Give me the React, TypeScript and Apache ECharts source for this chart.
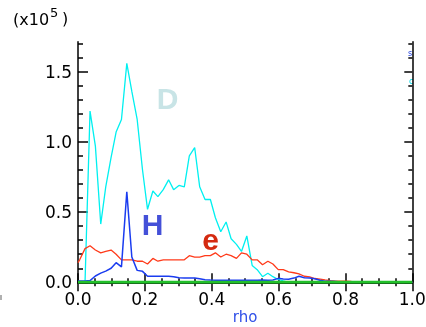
import React, { useEffect, useRef } from "react";
import * as echarts from "echarts";

// rho grid (x values)
const rho = [0, 0.005, 0.021, 0.036, 0.052, 0.068, 0.083, 0.099, 0.114, 0.13, 0.146, 0.161, 0.177, 0.193, 0.208, 0.224, 0.239, 0.255, 0.271, 0.286, 0.302, 0.318, 0.333, 0.349, 0.364, 0.38, 0.396, 0.411, 0.427, 0.443, 0.458, 0.474, 0.489, 0.505, 0.521, 0.536, 0.552, 0.568, 0.583, 0.599, 0.614, 0.63, 0.646, 0.661, 0.677, 0.693, 0.708, 0.724, 0.739, 0.755, 0.771, 0.786, 0.802, 0.818, 0.833, 0.849, 0.864, 0.88, 0.896, 0.911, 0.927, 0.943, 0.958, 0.974, 0.989, 1.0];

// values in units of 1e5
const dValues = [0,
  0, 0, 1.22, 0.97, 0.415, 0.68, 0.89, 1.07, 1.16, 1.56,
  1.36, 1.16, 0.8, 0.52, 0.65, 0.61, 0.66, 0.73, 0.66, 0.69,
  0.68, 0.9, 0.96, 0.68, 0.59, 0.59, 0.46, 0.36, 0.43, 0.31,
  0.27, 0.22, 0.33, 0.12, 0.09, 0.04, 0.065, 0.04, 0.02, 0.01,
  0, 0, 0, 0, 0, 0, 0, 0, 0, 0,
  0, 0, 0, 0, 0, 0, 0, 0, 0, 0,
  0, 0, 0, 0,
  0];

const eValues = [0.14,
  0.16, 0.24, 0.26, 0.23, 0.21, 0.22, 0.23, 0.2, 0.16, 0.16,
  0.16, 0.15, 0.15, 0.13, 0.17, 0.15, 0.16, 0.16, 0.16, 0.16,
  0.16, 0.19, 0.18, 0.18, 0.19, 0.19, 0.21, 0.18, 0.2, 0.19,
  0.17, 0.21, 0.2, 0.16, 0.16, 0.125, 0.15, 0.13, 0.09, 0.09,
  0.075, 0.068, 0.06, 0.043, 0.038, 0.027, 0.022, 0.017, 0.012, 0.009,
  0.008, 0.008, 0.006, 0.005, 0.005, 0.004, 0.004, 0.004, 0.003, 0.003,
  0.003, 0.003, 0.003, 0.002,
  0];

const hValues = [0.01,
  0.01, 0.01, 0.012, 0.045, 0.065, 0.08, 0.1, 0.14, 0.11, 0.645,
  0.18, 0.085, 0.078, 0.043, 0.043, 0.043, 0.043, 0.043, 0.04, 0.032,
  0.03, 0.03, 0.03, 0.025, 0.018, 0.016, 0.015, 0.015, 0.015, 0.014,
  0.015, 0.015, 0.014, 0.015, 0.015, 0.016, 0.015, 0.016, 0.028, 0.024,
  0.022, 0.03, 0.043, 0.032, 0.03, 0.025, 0.015, 0.008, 0.007, 0.005,
  0.003, 0.002, 0.001, 0.001, 0.001, 0.001, 0.001, 0.001, 0.001, 0.001,
  0.001, 0.001, 0.001, 0.001,
  0];

const gValues = rho.map(() => 0);

const xTickLabels = [0, 0.2, 0.4, 0.6, 0.8, 1.0];
const yMajor = [0, 0.5, 1.0, 1.5];
const yMinor = [0.1, 0.2, 0.3, 0.4, 0.6, 0.7, 0.8, 0.9, 1.1, 1.2, 1.3, 1.4, 1.6, 1.7];

const FONT = "DejaVu Sans";
const BOLD = "Liberation Sans";

export default function App() {
  const ref = useRef<HTMLDivElement>(null);
  useEffect(() => {
    if (!ref.current) return;
    const chart = echarts.init(ref.current, null, { renderer: "svg" });
    const pair = (vals: number[]) => rho.map((r, i) => [r, vals[i]]);
    const axisLine = { show: true, lineStyle: { color: "#000", width: 1.5 } };
    const yBase = { type: "value", min: 0, max: 1.714, splitLine: { show: false } };
    const xBase = {
      type: "value", min: 0, max: 1, interval: 0.2, splitLine: { show: false },
      axisLine,
      axisTick: { show: true, inside: true, length: 9, lineStyle: { color: "#000", width: 1.5 } },
      minorTick: { show: true, splitNumber: 4, length: 4, lineStyle: { color: "#000", width: 1.5 } },
    };
    chart.setOption({
      animation: false,
      grid: { left: 78, right: 13.7, top: 41.7, bottom: 44.7, containLabel: false, outerBoundsMode: "none" },
      xAxis: [
        {
          ...xBase, position: "bottom",
          axisLabel: {
            show: true, color: "#000", fontFamily: FONT, fontSize: 17, margin: 8,
            customValues: xTickLabels,
            formatter: (v: number) => v.toFixed(1),
          },
          name: "rho", nameLocation: "middle", nameGap: 28, nameMoveOverlap: false,
          nameTextStyle: { color: "#3050e8", fontFamily: FONT, fontSize: 15, lineHeight: 14 },
        },
        { ...xBase, position: "top", axisLabel: { show: false } },
      ],
      yAxis: [
        {
          ...yBase, position: "left", axisLine,
          axisTick: { show: true, inside: true, length: 10, customValues: yMajor, lineStyle: { color: "#000", width: 1.5 } },
          axisLabel: { show: true, customValues: yMajor, color: "#000", fontFamily: FONT, fontSize: 17, margin: 6, formatter: (v: number) => v.toFixed(1) },
        },
        {
          ...yBase, position: "left", axisLine: { show: false },
          axisTick: { show: true, inside: true, length: 5, customValues: yMinor, lineStyle: { color: "#000", width: 1.5 } },
          axisLabel: { show: false },
        },
        {
          ...yBase, position: "right", axisLine,
          axisTick: { show: true, inside: true, length: 8, customValues: yMajor, lineStyle: { color: "#000", width: 1.5 } },
          axisLabel: { show: false },
        },
        {
          ...yBase, position: "right", axisLine: { show: false },
          axisTick: { show: true, inside: true, length: 4, customValues: yMinor, lineStyle: { color: "#000", width: 1.5 } },
          axisLabel: { show: false },
        },
      ],
      series: [
        { name: "D", type: "line", data: pair(dValues), showSymbol: false, lineStyle: { color: "#00f0f0", width: 1.3 }, z: 2 },
        { name: "e", type: "line", data: pair(eValues), showSymbol: false, lineStyle: { color: "#ff3a1a", width: 1.3 }, z: 3 },
        { name: "H", type: "line", data: pair(hValues), showSymbol: false, lineStyle: { color: "#1a3cf0", width: 1.5 }, z: 4 },
        { name: "G", type: "line", data: pair(gValues), showSymbol: false, lineStyle: { color: "#22c02a", width: 3 }, z: 5 },
      ],
      graphic: [
        { type: "text", x: 13, y: 19, style: { text: "(x10", font: `16px "${FONT}"`, fill: "#000", verticalAlign: "middle", align: "left" } },
        { type: "text", x: 50, y: 12, style: { text: "5", font: `13px "${FONT}"`, fill: "#000", verticalAlign: "middle", align: "left" } },
        { type: "text", x: 62, y: 18.5, style: { text: ")", font: `16px "${FONT}"`, fill: "#000", verticalAlign: "middle", align: "left" } },
        { type: "text", x: 167.5, y: 98.5, style: { text: "D", font: `bold 30px "${BOLD}"`, fill: "#c8e4e6", verticalAlign: "middle", align: "center" } },
        { type: "text", x: 152.7, y: 224.7, style: { text: "H", font: `bold 30px "${BOLD}"`, fill: "#4450d8", verticalAlign: "middle", align: "center" } },
        { type: "text", x: 210.5, y: 239, style: { text: "e", font: `bold 30px "${BOLD}"`, fill: "#d42a10", verticalAlign: "middle", align: "center" } },
        { type: "text", x: 408, y: 53, style: { text: "s", font: `8px "${FONT}"`, fill: "#2040e0", verticalAlign: "middle", align: "left" } },
        { type: "text", x: 409, y: 81.5, style: { text: "c", font: `8px "${FONT}"`, fill: "#00d8e8", verticalAlign: "middle", align: "left" } },
        { type: "rect", shape: { x: 0, y: 295, width: 2, height: 5 }, style: { fill: "#b0b0b0" } },
      ],
    });
    return () => chart.dispose();
  }, []);
  return <div ref={ref} style={{ position: "fixed", left: 0, top: 0, width: 426, height: 327 }} />;
}
